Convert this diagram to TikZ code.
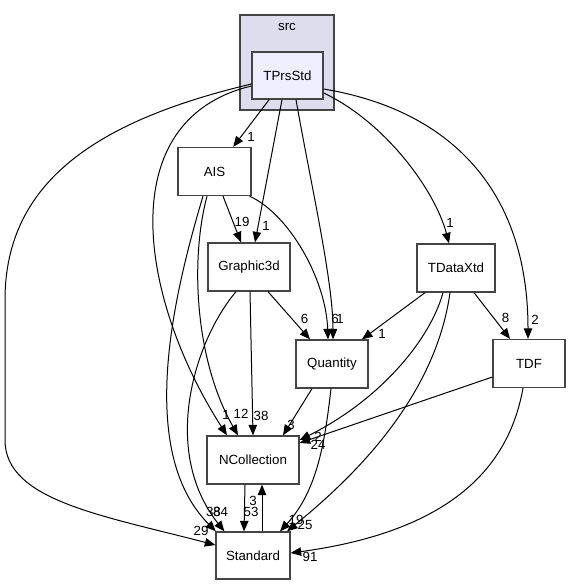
\documentclass[tikz,border=0pt]{standalone}
\usepackage{fontspec}
\setmainfont{Liberation Sans}
\usetikzlibrary{arrows.meta}
\definecolor{lav}{HTML}{DDDDEE}
\definecolor{pale}{HTML}{EEEEFF}
\definecolor{bord}{HTML}{444444}
\newcommand{\dgfont}{\fontsize{13.3}{16}\selectfont}
\begin{document}
\begin{tikzpicture}[x=1pt,y=-1pt,
  box/.style={draw=bord, line width=1.3pt, fill=white, inner sep=0pt, font=\dgfont},
  dep/.style={draw=black, line width=1pt, -{Triangle[length=10.5pt,width=8.5pt]}},
  lbl/.style={inner sep=0pt, font=\dgfont}]
\useasboundingbox (0,0) rectangle (571,585);
% cluster
\node[box, fill=lav, minimum width=94pt, minimum height=95pt] (src) at (287,62.5) {};
\node[lbl] (srct) at (287,27) {src};
% nodes
\node[box, fill=pale, minimum width=71pt, minimum height=47pt] (tp) at (287.5,75.5) {TPrsStd};
\node[box, minimum width=73pt, minimum height=48pt] (ais) at (214.5,171.5) {AIS};
\node[box, minimum width=82pt, minimum height=48pt] (g3d) at (249,267) {Graphic3d};
\node[box, minimum width=78pt, minimum height=48pt] (tdx) at (456,268) {TDataXtd};
\node[box, minimum width=72pt, minimum height=48pt] (qty) at (332,364) {Quantity};
\node[box, minimum width=72pt, minimum height=48pt] (tdf) at (529,363.5) {TDF};
\node[box, minimum width=92pt, minimum height=48pt] (ncol) at (253,460) {NCollection};
\node[box, minimum width=74pt, minimum height=47pt] (std) at (253,555.5) {Standard};
% edges from TPrsStd
\draw[dep] (tp) -- (ais);
\draw[dep] ([xshift=-5.5pt]tp.south) -- ([xshift=6pt]g3d.north);
\draw[dep] ([xshift=8.5pt]tp.south) .. controls (310,180) and (333,280) .. ([xshift=1pt]qty.north);
\draw[dep] ([yshift=-17.5pt]tp.east) .. controls (385,122) and (435,190) .. ([xshift=-7pt]tdx.north);
\draw[dep] ([yshift=-13.5pt]tp.east) .. controls (450,110) and (528,190) .. ([xshift=-1pt]tdf.north);
\draw[dep] ([yshift=-10.5pt]tp.west) .. controls (110,120) and (140,300) .. ([xshift=-26pt]ncol.north);
\draw[dep] ([yshift=-8.5pt]tp.west) .. controls (100,120) and (5,180) .. (5,300) -- (5,440) .. controls (5,500) and (100,515) .. ([yshift=10.5pt]std.west);
% edges from AIS
\draw[dep] ([xshift=8.5pt]ais.south) -- ([xshift=-8pt]g3d.north);
\draw[dep] ([xshift=-2pt]ais.south east) .. controls (290,215) and (326,280) .. ([xshift=-4pt]qty.north);
\draw[dep] ([xshift=-7.5pt]ais.south) .. controls (190,260) and (195,360) .. ([xshift=-15pt]ncol.north);
\draw[dep] ([xshift=-11.5pt]ais.south) .. controls (175,290) and (135,450) .. ([xshift=0.5pt]std.north west);
% edges from Graphic3d
\draw[dep] ([xshift=19pt]g3d.south) -- ([xshift=-22pt]qty.north);
\draw[dep] ([xshift=1pt]g3d.south) -- (ncol.north);
\draw[dep] ([xshift=-13pt]g3d.south) .. controls (195,340) and (160,450) .. ([xshift=9pt]std.north west);
% edges from TDataXtd
\draw[dep] ([xshift=-31pt]tdx.south) -- ([xshift=30pt]qty.north);
\draw[dep] ([xshift=18pt]tdx.south) -- ([xshift=-19pt]tdf.north);
\draw[dep] ([xshift=-13pt]tdx.south) .. controls (430,340) and (380,400) .. ([yshift=20pt]ncol.east);
\draw[dep] ([xshift=-6pt]tdx.south) .. controls (435,400) and (350,480) .. ([xshift=34pt]std.north);
% edges from Quantity
\draw[dep] ([xshift=-20pt]qty.south) -- ([xshift=30pt]ncol.north);
\draw[dep] ([xshift=-1pt]qty.south) .. controls (325,440) and (318,490) .. ([xshift=27pt]std.north);
% edges from TDF
\draw[dep] ([yshift=-13.5pt]tdf.west) -- ([yshift=17pt]ncol.east);
\draw[dep] ([xshift=-6pt]tdf.south) .. controls (510,460) and (460,530) .. ([yshift=2.5pt]std.east);
% NCollection <-> Standard
\draw[dep] ([xshift=-8pt]ncol.south) -- ([xshift=-9pt]std.north);
\draw[dep] ([xshift=9pt]std.north) -- ([xshift=9pt]ncol.south);
% labels
\node[lbl] (l1) at (251,137) {1};
\node[lbl] (l2) at (266,226) {1};
\node[lbl] (l3) at (242,222) {19};
\node[lbl] (l4) at (450,223) {1};
\node[lbl] (l5) at (535,320) {2};
\node[lbl] (l6) at (505.5,318) {8};
\node[lbl] (l7) at (304.5,319) {6};
\node[lbl] (l8) at (335,319) {6};
\node[lbl] (l9) at (340,319) {1};
\node[lbl] (l10) at (382,334) {1};
\node[lbl] (l11) at (226,415) {1};
\node[lbl] (l12) at (241,414) {12};
\node[lbl] (l13) at (261,416) {38};
\node[lbl] (l14) at (291,425) {3};
\node[lbl] (l15) at (318,437) {2};
\node[lbl] (l16) at (318,445) {24};
\node[lbl] (l17) at (213.4,512) {38};
\node[lbl] (l18) at (220.6,512) {84};
\node[lbl] (l19) at (201,531) {29};
\node[lbl] (l20) at (253,501) {3};
\node[lbl] (l21) at (251,512) {53};
\node[lbl] (l22) at (296,520) {19};
\node[lbl] (l23) at (305,525) {25};
\node[lbl] (l24) at (310,557) {91};
\end{tikzpicture}
\end{document}
